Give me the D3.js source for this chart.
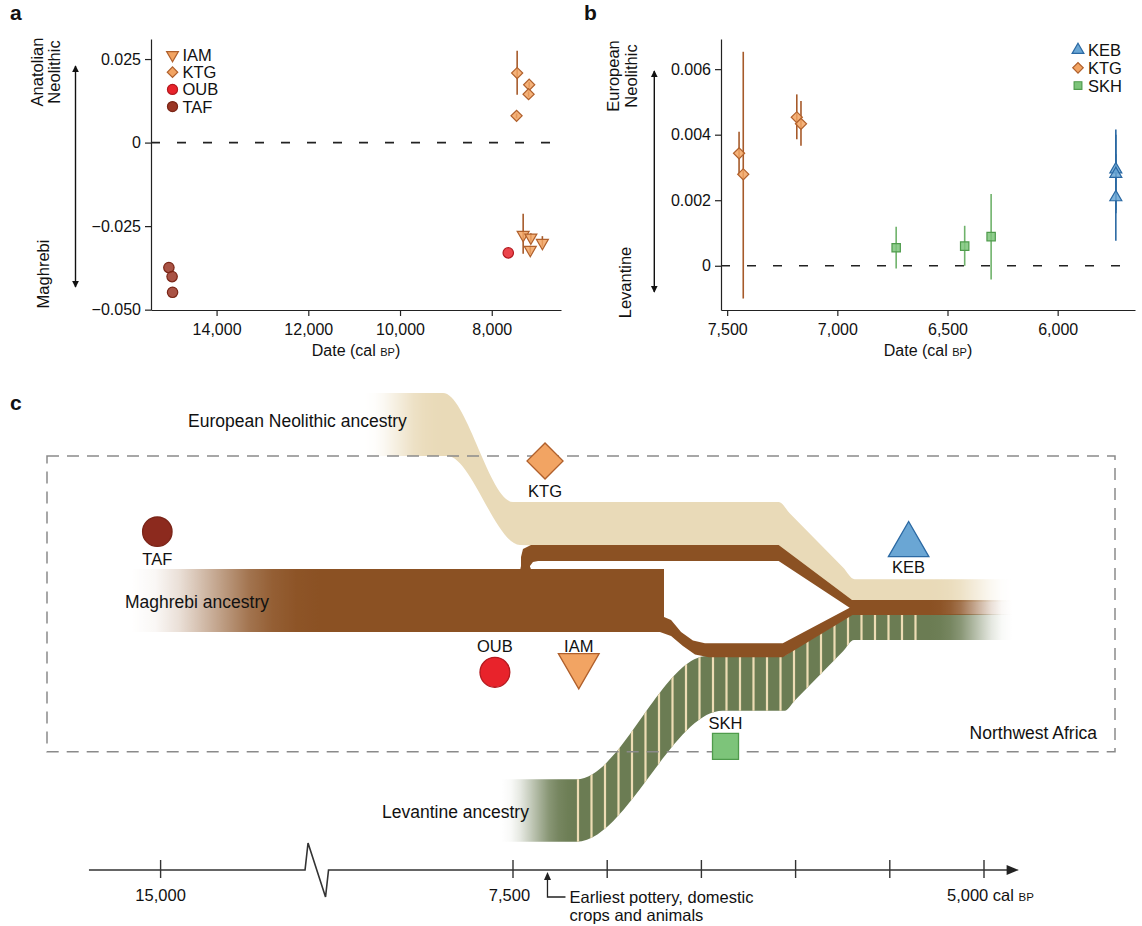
<!DOCTYPE html>
<html>
<head>
<meta charset="utf-8">
<script src="https://cdn.jsdelivr.net/npm/d3@7"></script>
<style>
    body{margin:0;background:#fff;}
    svg{font-family:"Liberation Sans", Arial, sans-serif;}
    .axis path, .axis line{stroke:#222;stroke-width:1.2;}
    .axis text{font-size:16px;fill:#111;}
</style>
</head>
<body>
<svg id="fig" width="1142" height="926"></svg>
<script>
//panel a data (date cal BP, f4 value, error low/high)
var tafDates = [15040, 14970, 14960],
    tafVals = [-0.0374, -0.0401, -0.0448];
var oubDates = [7640],
    oubVals = [-0.0330];
var iamDates = [7315, 7147, 7160, 6896],
    iamVals = [-0.0276, -0.0284, -0.0321, -0.0300],
    iamLo = [-0.0333, -0.0297, -0.0333, -0.0311],
    iamHi = [-0.0213, -0.0271, -0.0309, -0.0280];
var ktgDatesA = [7446, 7184, 7197, 7459],
    ktgValsA = [0.0208, 0.0173, 0.0145, 0.0080],
    ktgLoA = [0.0143, 0.0165, 0.0137, 0.0073],
    ktgHiA = [0.0275, 0.0181, 0.0153, 0.0087];
var xTicksA = [14000, 12000, 10000, 8000],
    yTicksA = [-0.05, -0.025, 0, 0.025],
    yLabelsA = ["\u22120.050", "\u22120.025", "0", "0.025"];

//panel b data
var kebDates = [5736, 5736, 5736],
    kebVals = [0.00294, 0.00280, 0.00209],
    kebLo = [0.0017, 0.0016, 0.00076],
    kebHi = [0.00416, 0.0040, 0.0034];
var ktgDatesB = [7446, 7427, 7184, 7165],
    ktgValsB = [0.00343, 0.00279, 0.00453, 0.00433],
    ktgLoB = [0.00277, -0.00100, 0.00386, 0.00366],
    ktgHiB = [0.00409, 0.00653, 0.00523, 0.00503];
var skhDates = [6733, 6422, 6302],
    skhVals = [0.00055, 0.00060, 0.00089],
    skhLo = [-0.00008, 0.0000, -0.00042],
    skhHi = [0.00119, 0.00122, 0.00219];
var xTicksB = [7500, 7000, 6500, 6000],
    yTicksB = [0, 0.002, 0.004, 0.006],
    yLabelsB = ["0", "0.002", "0.004", "0.006"];

//panel c schematic: nodes (date cal BP, level below panel top)
var cNames = ["TAF", "KTG", "OUB", "IAM", "SKH", "KEB"],
    cDates = [15130, 7330, 7596, 7151, 6372, 5400],
    cLevels = [151.7, 81, 292.3, 285.4, 366.3, 164.9];
//european band: top edge / bottom edge
var eurTopDates = [8312, 7872, 7500, 6090, 6030, 5748, 5687, 4835],
    eurTopLevels = [13, 13, 122, 122, 133.5, 187.6, 199.3, 199.3],
    eurBotDates = [8312, 7850, 7463, 6090, 6030, 5748, 5687, 4835],
    eurBotLevels = [76, 76, 165, 170, 180, 218, 222, 222];
//levantine band: top edge / bottom edge
var levTopDates = [7569, 7162, 6470, 6068, 6014, 5754, 5698, 4835],
    levTopLevels = [399.3, 399.3, 276, 276, 270, 240.4, 234, 234],
    levBotDates = [7569, 7162, 6388, 6058, 6003, 5748, 5690, 4835],
    levBotLevels = [461.7, 461.7, 330.7, 330.7, 320.2, 271.2, 260, 260];
//maghrebi network outline and the gap inside it
var magOuterDates = [16213, 7461, 7457.5, 7457.5, 7447, 7404.5, 6090, 5700.6, 4835, 4835, 5698, 6068, 6460, 6534, 6598, 6661, 6720, 16213],
    magOuterLevels = [189, 189, 186, 177, 169, 165, 165, 220, 220, 235, 235, 277.3, 277.3, 274.5, 266, 256, 252, 252];
var magGapDates = [7405, 7410, 7410, 7394, 7367, 6090, 5713, 6068, 6481, 6545, 6608, 6661, 6698.5, 6698.5],
    magGapLevels = [189, 186.5, 186, 182, 181, 181, 227.7, 263.3, 263.3, 260.5, 252, 240, 237, 189];
//timeline
var tlTicks = [15000, 7500, 7000, 6500, 6000, 5500, 5000],
    tlLabels = ["15,000", "7,500", "", "", "", "", "5,000"],
    potteryDate = 7317;

var svg = d3.select("#fig");
var defs = svg.append("defs");

var col = {
    ktgFill: "#f2a463", ktgLine: "#b0602c",
    tafFill: "#9a3524", tafLine: "#7a2516",
    oubFill: "#e8232b", oubLine: "#b3191f",
    kebFill: "#6aa6d4", kebLine: "#2b69a3",
    skhFill: "#7dc47a", skhLine: "#4f9b4c",
    brown: "#8b5123", beige: "#e9dab8", green: "#6b7c53", stripe: "#eddcb4"
};

function zip(a, b){
    return a.map(function(d, i){ return [d, b[i]]; });
}

//draw a scatter series with error bars
function drawSeries(g, x, y, dates, vals, lo, hi, shape, size, rot, fill, line, barColor){
    if (lo){
        g.selectAll(null).data(dates).enter().append("line")
            .attr("x1", function(d){ return x(d); })
            .attr("x2", function(d){ return x(d); })
            .attr("y1", function(d, i){ return y(lo[i]); })
            .attr("y2", function(d, i){ return y(hi[i]); })
            .attr("stroke", barColor)
            .attr("stroke-width", 1.6);
    }
    g.selectAll(null).data(dates).enter().append("path")
        .attr("d", d3.symbol().type(shape).size(size))
        .attr("transform", function(d, i){ return "translate(" + x(d) + "," + y(vals[i]) + ") rotate(" + rot + ")"; })
        .attr("fill", fill)
        .attr("fill-opacity", 0.85)
        .attr("stroke", line)
        .attr("stroke-width", 1.2);
}

function drawAxes(g, x, y, xTicks, yTicks, yLabels){
    g.append("g").attr("class", "axis")
        .attr("transform", "translate(0," + y.range()[0] + ")")
        .call(d3.axisBottom(x).tickValues(xTicks).tickFormat(d3.format(",")).tickSize(6).tickSizeOuter(0).tickPadding(8));
    g.append("g").attr("class", "axis")
        .attr("transform", "translate(" + x.range()[0] + ",0)")
        .call(d3.axisLeft(y).tickValues(yTicks).tickFormat(function(d, i){ return yLabels[i]; }).tickSize(6).tickSizeOuter(0).tickPadding(4));
    //zero reference line
    g.append("line")
        .attr("x1", x.range()[0]).attr("x2", x.range()[1])
        .attr("y1", y(0)).attr("y2", y(0))
        .attr("stroke", "#222").attr("stroke-width", 1.6)
        .attr("stroke-dasharray", "9,17");
    //axis title
    var t = g.append("text")
        .attr("x", (x.range()[0] + x.range()[1]) / 2)
        .attr("y", 356)
        .attr("text-anchor", "middle")
        .attr("font-size", 16)
        .attr("fill", "#111")
        .text("Date (cal ");
    t.append("tspan").attr("font-size", 11).text("BP");
    t.append("tspan").text(")");
}

//arrow marker
defs.append("marker")
    .attr("id", "arr")
    .attr("viewBox", "0 0 10 10")
    .attr("refX", 9).attr("refY", 5)
    .attr("markerWidth", 7).attr("markerHeight", 9)
    .attr("markerUnits", "userSpaceOnUse")
    .attr("orient", "auto-start-reverse")
    .append("path").attr("d", "M0,0 L10,5 L0,10 Z").attr("fill", "#111");

function sideArrow(g, x, y0, y1, topLines, topY, topX, botText, botY, botX){
    g.append("line")
        .attr("x1", x).attr("x2", x).attr("y1", y0).attr("y2", y1)
        .attr("stroke", "#111").attr("stroke-width", 1.4)
        .attr("marker-start", "url(#arr)").attr("marker-end", "url(#arr)");
    var t = g.append("text")
        .attr("transform", "translate(" + topX + "," + topY + ") rotate(-90)")
        .attr("text-anchor", "middle").attr("font-size", 16.5).attr("fill", "#111");
    topLines.forEach(function(s, i){
        t.append("tspan").attr("x", 0).attr("dy", i ? 17.5 : 0).text(s);
    });
    g.append("text")
        .attr("transform", "translate(" + botX + "," + botY + ") rotate(-90)")
        .attr("text-anchor", "middle").attr("font-size", 16.5).attr("fill", "#111")
        .text(botText);
}

function legend(g, x, y0, dy, items){
    items.forEach(function(it, i){
        g.append("path")
            .attr("d", d3.symbol().type(it.shape).size(it.size))
            .attr("transform", "translate(" + x + "," + (y0 + i * dy) + ") rotate(" + it.rot + ")")
            .attr("fill", it.fill).attr("stroke", it.line).attr("stroke-width", 1.2);
        g.append("text")
            .attr("x", x + 10).attr("y", y0 + i * dy).attr("dy", "0.36em")
            .attr("font-size", 16.5).attr("fill", "#111")
            .text(it.name);
    });
}

function panelLetter(x, y, s){
    svg.append("text").attr("x", x).attr("y", y)
        .attr("font-size", 21).attr("font-weight", "bold").attr("fill", "#111").text(s);
}

/*****PANEL A*****/
var gA = svg.append("g");
var xA = d3.scaleLinear().domain([15430, 6490]).range([151, 561]);
var yA = d3.scaleLinear().domain([-0.0501, 0.031]).range([310, 39]);
drawAxes(gA, xA, yA, xTicksA, yTicksA, yLabelsA);
drawSeries(gA, xA, yA, tafDates, tafVals, null, null, d3.symbolCircle, 85, 0, col.tafFill, col.tafLine);
drawSeries(gA, xA, yA, oubDates, oubVals, null, null, d3.symbolCircle, 85, 0, col.oubFill, col.oubLine);
drawSeries(gA, xA, yA, ktgDatesA, ktgValsA, ktgLoA, ktgHiA, d3.symbolSquare, 62, 45, col.ktgFill, col.ktgLine, "#a65a2a");
drawSeries(gA, xA, yA, iamDates, iamVals, iamLo, iamHi, d3.symbolTriangle, 62, 180, col.ktgFill, col.ktgLine, "#a65a2a");
sideArrow(gA, 75.5, 66, 287, ["Anatolian", "Neolithic"], 72, 42.5, "Maghrebi", 274, 49);
legend(gA, 172.5, 55, 17.2, [
    {name: "IAM", shape: d3.symbolTriangle, size: 60, rot: 180, fill: col.ktgFill, line: col.ktgLine},
    {name: "KTG", shape: d3.symbolSquare, size: 55, rot: 45, fill: col.ktgFill, line: col.ktgLine},
    {name: "OUB", shape: d3.symbolCircle, size: 80, rot: 0, fill: col.oubFill, line: col.oubLine},
    {name: "TAF", shape: d3.symbolCircle, size: 80, rot: 0, fill: col.tafFill, line: col.tafLine}
]);
panelLetter(10, 20, "a");

/*****PANEL B*****/
var gB = svg.append("g");
var xB = d3.scaleLinear().domain([7528, 5649]).range([721, 1135]);
var yB = d3.scaleLinear().domain([-0.00135, 0.00692]).range([310, 39]);
drawAxes(gB, xB, yB, xTicksB, yTicksB, yLabelsB);
drawSeries(gB, xB, yB, ktgDatesB, ktgValsB, ktgLoB, ktgHiB, d3.symbolSquare, 62, 45, col.ktgFill, col.ktgLine, "#a65a2a");
drawSeries(gB, xB, yB, skhDates, skhVals, skhLo, skhHi, d3.symbolSquare, 70, 0, col.skhFill, col.skhLine, "#6fb26b");
drawSeries(gB, xB, yB, kebDates, kebVals, kebLo, kebHi, d3.symbolTriangle, 62, 0, col.kebFill, col.kebLine, "#2b69a3");
sideArrow(gB, 654.3, 71, 292, ["European", "Neolithic"], 76, 619, "Levantine", 282.5, 630.5);
legend(gB, 1078, 50, 17.8, [
    {name: "KEB", shape: d3.symbolTriangle, size: 60, rot: 0, fill: col.kebFill, line: col.kebLine},
    {name: "KTG", shape: d3.symbolSquare, size: 55, rot: 45, fill: col.ktgFill, line: col.ktgLine},
    {name: "SKH", shape: d3.symbolSquare, size: 60, rot: 0, fill: col.skhFill, line: col.skhLine}
]);
panelLetter(584, 20, "b");

/*****PANEL C*****/
var gC = svg.append("g");
//compressed time axis with a break before 8,500 cal BP
var xC = d3.scaleLinear().domain([15000, 8500, 5000]).range([160.6, 324.6, 984]);
var yC = d3.scaleLinear().domain([0, 546]).range([380, 926]);

//fade masks for the ancestry bands (eased ramps at both ends)
function fadeMask(id, inStart, inEnd, outStart, outEnd){
    var a = xC(inStart), b = xC(outEnd);
    var grad = defs.append("linearGradient")
        .attr("id", id + "g").attr("gradientUnits", "userSpaceOnUse")
        .attr("x1", a).attr("x2", b).attr("y1", 0).attr("y2", 0);
    var steps = d3.range(0, 1.0001, 0.125);
    function addStop(pos, v){
        grad.append("stop").attr("offset", (pos - a) / (b - a)).attr("stop-color", d3.interpolateGreys(1 - v));
    }
    steps.forEach(function(t){ addStop(xC(inStart) + (xC(inEnd) - xC(inStart)) * t, d3.easeSinInOut(t)); });
    steps.forEach(function(t){ addStop(xC(outStart) + (xC(outEnd) - xC(outStart)) * t, d3.easeSinInOut(1 - t)); });
    defs.append("mask").attr("id", id)
        .attr("maskUnits", "userSpaceOnUse").attr("x", 0).attr("y", 0).attr("width", 1142).attr("height", 926)
        .append("rect").attr("width", 1142).attr("height", 926).attr("fill", "url(#" + id + "g)");
}
fadeMask("fadeEur", 8290, 7872, 5287, 4851);
fadeMask("fadeMag", 16150, 8700, 5287, 4851);
fadeMask("fadeLev", 7560, 7160, 5287, 4851);

function band(topD, topL, botD, botL){
    var pts = topD.map(function(d, i){ return {t: d, tl: topL[i], b: botD[i], bl: botL[i]}; });
    return d3.area().curve(d3.curveMonotoneX)
        .x1(function(p){ return xC(p.t); }).y1(function(p){ return yC(p.tl); })
        .x0(function(p){ return xC(p.b); }).y0(function(p){ return yC(p.bl); })(pts);
}

//european neolithic band
gC.append("path")
    .attr("d", band(eurTopDates, eurTopLevels, eurBotDates, eurBotLevels))
    .attr("fill", col.beige).attr("mask", "url(#fadeEur)");

//levantine band with stripes
var levPath = band(levTopDates, levTopLevels, levBotDates, levBotLevels);
gC.append("path").attr("d", levPath).attr("fill", col.green).attr("mask", "url(#fadeLev)");
defs.append("clipPath").attr("id", "levClip").append("path").attr("d", levPath);
gC.append("g").attr("clip-path", "url(#levClip)")
    .selectAll("line").data(d3.range(xC(7155), xC(5350), 13.5)).enter().append("line")
    .attr("x1", function(d){ return d; }).attr("x2", function(d){ return d; })
    .attr("y1", yC(220)).attr("y2", yC(470))
    .attr("stroke", col.stripe).attr("stroke-width", 2.2);

//maghrebi band and its branches
var poly = d3.line().x(function(p){ return xC(p[0]); }).y(function(p){ return yC(p[1]); });
gC.append("path")
    .attr("d", poly(zip(magOuterDates, magOuterLevels)) + "Z" + poly(zip(magGapDates, magGapLevels)) + "Z")
    .attr("fill", col.brown).attr("fill-rule", "evenodd").attr("mask", "url(#fadeMag)");

//band labels
gC.append("text").attr("x", 188).attr("y", 427).attr("font-size", 17.5).attr("fill", "#111").text("European Neolithic ancestry");
gC.append("text").attr("x", 125).attr("y", 608).attr("font-size", 17.5).attr("fill", "#111").text("Maghrebi ancestry");
gC.append("text").attr("x", 382).attr("y", 818).attr("font-size", 17.5).attr("fill", "#111").text("Levantine ancestry");

//northwest africa frame
gC.append("rect")
    .attr("x", 47).attr("y", 456).attr("width", 1068).attr("height", 295.7)
    .attr("fill", "none").attr("stroke", "#8a8a8a").attr("stroke-width", 1.5)
    .attr("stroke-dasharray", "12,8");
gC.append("text").attr("x", 1097).attr("y", 739).attr("text-anchor", "end")
    .attr("font-size", 17.5).attr("fill", "#111").text("Northwest Africa");

//group markers
var cStyle = {
    TAF: {shape: d3.symbolCircle, size: 680, rot: 0, fill: "#8c2a1e", line: "#7a2418", dy: 33.3},
    KTG: {shape: d3.symbolSquare, size: 650, rot: 45, fill: col.ktgFill, line: col.ktgLine, dy: 36},
    OUB: {shape: d3.symbolCircle, size: 700, rot: 0, fill: col.oubFill, line: col.oubLine, dy: -20.3},
    IAM: {shape: d3.symbolTriangle, size: 720, rot: 180, fill: col.ktgFill, line: col.ktgLine, dy: -13.4},
    SKH: {shape: d3.symbolSquare, size: 676, rot: 0, fill: col.skhFill, line: col.skhLine, dy: -17.3},
    KEB: {shape: d3.symbolTriangle, size: 710, rot: 0, fill: col.kebFill, line: col.kebLine, dy: 28.1}
};
cNames.forEach(function(n, i){
    var s = cStyle[n], cx = xC(cDates[i]), cy = yC(cLevels[i]);
    gC.append("path")
        .attr("d", d3.symbol().type(s.shape).size(s.size))
        .attr("transform", "translate(" + cx + "," + cy + ") rotate(" + s.rot + ")")
        .attr("fill", s.fill).attr("stroke", s.line).attr("stroke-width", 1.3);
    gC.append("text").attr("x", cx).attr("y", cy + s.dy)
        .attr("text-anchor", "middle").attr("font-size", 16.5).attr("fill", "#111").text(n);
});

//timeline with axis break
var tlY = yC(490), bx = xC(8800);
gC.append("path")
    .attr("d", "M" + xC(17840) + "," + tlY + "H" + (bx - 12) + "L" + (bx - 9) + "," + (tlY - 27) +
        "L" + (bx + 8.5) + "," + (tlY + 27) + "L" + (bx + 11.5) + "," + tlY + "H" + xC(4850))
    .attr("fill", "none").attr("stroke", "#333").attr("stroke-width", 1.6)
    .attr("stroke-linejoin", "miter");
gC.append("path")
    .attr("d", "M" + xC(4880) + "," + (tlY - 5) + "L" + xC(4815) + "," + tlY + "L" + xC(4880) + "," + (tlY + 5) + "Z")
    .attr("fill", "#222");
gC.selectAll(null).data(tlTicks).enter().append("line")
    .attr("x1", function(d){ return xC(d); }).attr("x2", function(d){ return xC(d); })
    .attr("y1", tlY - 10).attr("y2", tlY + 8)
    .attr("stroke", "#333").attr("stroke-width", 1.4);
gC.selectAll(null).data(tlTicks.slice(0, 2)).enter().append("text")
    .attr("x", function(d){ return xC(d) - (d === 7500 ? 3.5 : 0); }).attr("y", tlY + 31)
    .attr("text-anchor", "middle").attr("font-size", 16.5).attr("fill", "#111")
    .text(function(d, i){ return tlLabels[i]; });
var lastT = gC.append("text").attr("x", xC(5000) - 37).attr("y", tlY + 31)
    .attr("font-size", 16.5).attr("fill", "#111").text(tlLabels[6] + " cal ");
lastT.append("tspan").attr("font-size", 11.5).text("BP");

//pottery annotation
var ax = xC(potteryDate);
gC.append("path")
    .attr("d", "M" + (ax + 18) + "," + (tlY + 27) + "H" + ax + "V" + (tlY + 8))
    .attr("fill", "none").attr("stroke", "#222").attr("stroke-width", 1.3);
gC.append("path")
    .attr("d", "M" + (ax - 3.5) + "," + (tlY + 10) + "L" + ax + "," + (tlY + 2) + "L" + (ax + 3.5) + "," + (tlY + 10) + "Z")
    .attr("fill", "#222");
gC.append("text").attr("x", ax + 22).attr("y", tlY + 33).attr("font-size", 16.5).attr("fill", "#111").text("Earliest pottery, domestic");
gC.append("text").attr("x", ax + 22).attr("y", tlY + 51).attr("font-size", 16.5).attr("fill", "#111").text("crops and animals");

panelLetter(10, 410, "c");
</script>
</body>
</html>
